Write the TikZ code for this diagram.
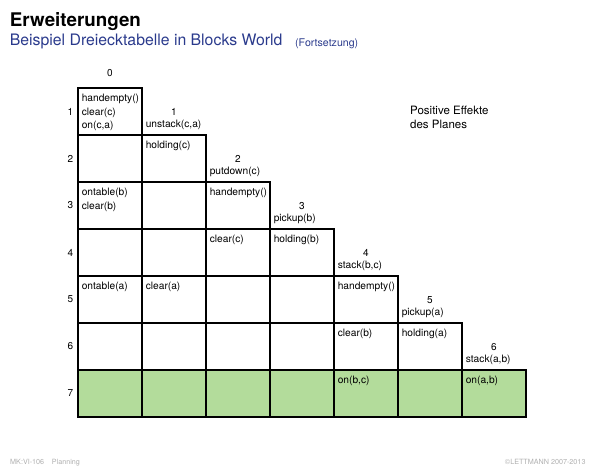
\documentclass[tikz,border=0pt]{standalone}
\usepackage{fontspec}
\setmainfont{TeX Gyre Heros}
\usetikzlibrary{positioning}
\definecolor{effgreen}{RGB}{179,220,155}
\definecolor{subblue}{RGB}{42,58,140}
\definecolor{footgray}{RGB}{175,175,175}
\begin{document}
\begin{tikzpicture}[x=1pt,y=-1pt,
  cell/.style={draw,line width=1.1pt,minimum width=64pt,minimum height=47pt,anchor=north west,inner sep=0pt,outer sep=0pt},
  txt/.style={font=\fontsize{10.2}{13.8}\selectfont,align=left,anchor=north west,inner sep=0pt},
  num/.style={font=\fontsize{10}{12}\selectfont,inner sep=0pt},
  op/.style={font=\fontsize{10.2}{12}\selectfont,inner sep=0pt,anchor=base west},
  foot/.style={font=\fontsize{7.2}{8}\selectfont,text=footgray,inner sep=0pt,anchor=base west}]
\useasboundingbox (0,0) rectangle (600,467);
\node[anchor=base west,inner sep=0pt,font=\fontsize{18.8}{22}\selectfont\bfseries] (title) at (9.7,26.7) {Erweiterungen};
\node[anchor=base west,inner sep=0pt,text=subblue,font=\fontsize{15.8}{18}\selectfont] (subtitle) at (9.7,45.7) {Beispiel Dreiecktabelle in Blocks World};
\node[anchor=base west,inner sep=0pt,text=subblue,font=\fontsize{10.6}{12}\selectfont] (cont) at (295,46.2) {(Fortsetzung)};
\foreach \r in {1,...,6}{
  \pgfmathtruncatemacro\last{\r-1}
  \foreach \c in {0,...,\last}
    \node[cell] (c\r\c) at ({78+64*\c},{88+47*(\r-1)}) {};
}
\foreach \c in {0,...,6}
  \node[cell,fill=effgreen] (c7\c) at ({78+64*\c},{88+47*6}) {};
\foreach \r in {1,...,7}
  \node[num,left=4.5pt of c\r0] (r\r) {\r};
\node[num] (n0) at ([shift={(0,-14.7)}]c10.north) {0};
\foreach \j/\name in {1/{unstack(c,a)},2/{putdown(c)},3/{pickup(b)},4/{stack(b,c)},5/{pickup(a)},6/{stack(a,b)}}{
  \pgfmathtruncatemacro\nxt{\j+1}
  \node[num] (n\j) at ([shift={(0,-23)}]c\nxt\j.north) {\j};
  \node[op] (o\j) at ([shift={(3.6,-7.2)}]c\nxt\j.north west) {\name};
}
\foreach \rc/\t in {10/{handempty()\\clear(c)\\on(c,a)},21/{holding(c)},30/{ontable(b)\\clear(b)},32/{handempty()},
  42/{clear(c)},43/{holding(b)},50/{ontable(a)},51/{clear(a)},54/{handempty()},64/{clear(b)},65/{holding(a)},
  74/{on(b,c)},76/{on(a,b)}}
  \node[txt] (e\rc) at ([shift={(3.6,5.7)}]c\rc.north west) {\t};
\node[anchor=north west,inner sep=0pt,align=left,font=\fontsize{11.5}{14}\selectfont] (pos) at (410,106) {Positive Effekte\\des Planes};
\node[foot] (fl) at (10,464) {MK:VI-106};
\node[foot] (fp) at (51.7,464) {Planning};
\node[foot,anchor=base east] (fr) at (585.7,464) {\textcopyright LETTMANN 2007-2013};
\end{tikzpicture}
\end{document}
